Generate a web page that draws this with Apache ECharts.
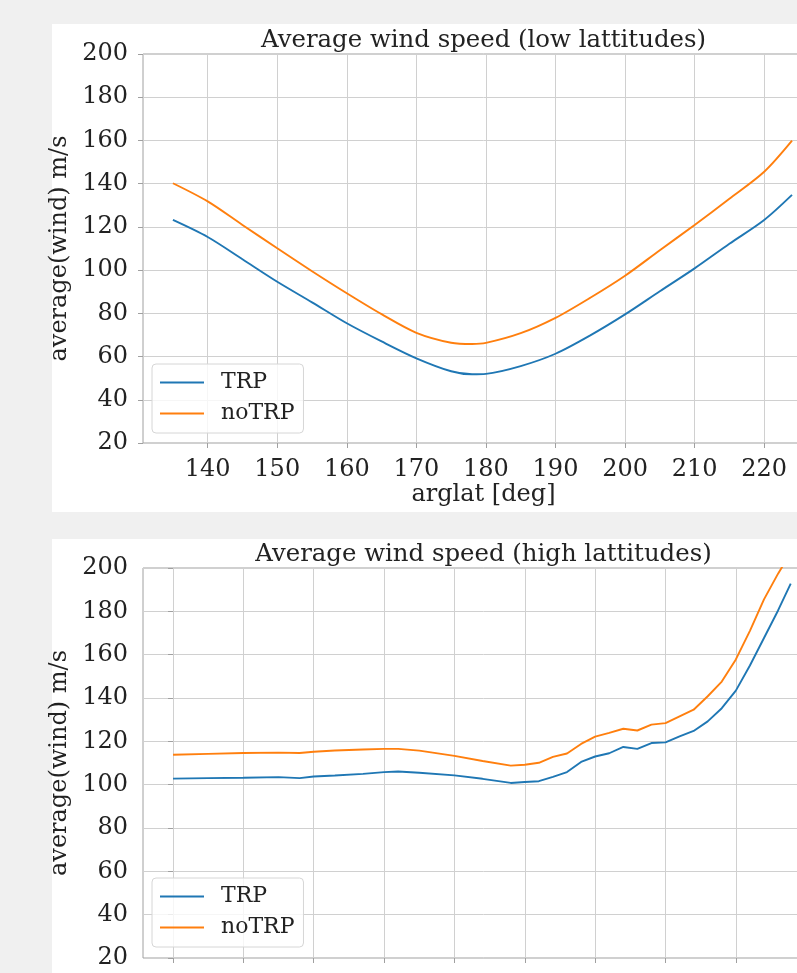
<!DOCTYPE html>
<html><head><meta charset="utf-8">
<script src="https://cdn.jsdelivr.net/npm/echarts@6/dist/echarts.min.js"></script>
<style>
html,body{margin:0;padding:0;background:#f0f0f0;width:797px;height:973px;overflow:hidden;position:relative;}
.panel{position:absolute;background:#fff;}
#chart{position:absolute;left:0;top:0;width:840px;height:1040px;}
</style></head><body>
<div class="panel" style="left:52px;top:24px;width:745px;height:488px"></div>
<div class="panel" style="left:52px;top:539px;width:745px;height:434px"></div>
<div id="chart"></div>
<script>
// ---- data ----
const lowArglat = [135,140,145,150,155,160,165,170,175,178,180,185,190,195,200,205,210,215,220,224];
const lowTRP    = [123.2,115.3,105.0,94.6,85.1,75.4,67.0,59.2,53.2,51.8,52.0,55.6,61.3,69.8,79.5,90.2,100.8,112.2,123.2,134.8];
const lowNoTRP  = [140.2,131.8,120.9,110.1,99.5,89.3,79.6,71.0,66.4,65.8,66.3,70.8,77.9,87.2,97.4,109.2,120.9,133.0,145.5,159.9];

const highArglat = [0,5,10,15,18,20,23,27,30,32,35,40,44,48,50,52,54,56,58,60,62,64,66,68,70,72,74,76,78,80,82,84,86,87.8];
const highTRP    = [102.8,103.0,103.2,103.5,103.0,103.8,104.2,105.0,105.8,106.1,105.5,104.3,102.7,100.8,101.2,101.6,103.6,105.8,110.5,113.0,114.5,117.4,116.5,119.2,119.5,122.3,124.8,129.2,135.3,143.4,155.0,167.7,180.4,192.8];
const highNoTRP  = [113.8,114.2,114.6,114.8,114.6,115.2,115.8,116.2,116.5,116.5,115.7,113.3,110.9,108.8,109.2,110.1,112.8,114.4,118.8,122.2,123.9,125.8,125.0,127.7,128.4,131.5,134.6,140.8,147.6,157.8,171.0,185.5,197.4,207.0];

const lowTicks  = [140,150,160,170,180,190,200,210,220];
const highTicks = [0,10,20,30,40,50,60,70,80,90];
const seriesNames = ['TRP','noTRP'];
const titles = ['Average wind speed (low lattitudes)','Average wind speed (high lattitudes)'];

// ---- styling ----
const FONT = 'DejaVu Serif';
const TXT = '#222';
const SPINE = '#a0a0a0';
const GRIDC = '#d0d0d0';
const BLUE = '#1f77b4', ORANGE = '#ff7f0e';

function pairs(xs, ys){ return xs.map((x,i)=>[x, ys[i]]); }

function xAxisCfg(idx, min, max, ticks, name){
  return {
    type:'value', gridIndex:idx, min:min, max:max,
    name:name, nameLocation:'middle', nameGap:37,
    nameTextStyle:{fontFamily:FONT, fontSize:24, color:TXT},
    axisLine:{show:false},
    axisTick:{show:true, inside:false, length:5, customValues:ticks, lineStyle:{color:SPINE}},
    axisLabel:{show:true, customValues:ticks, margin:15, fontFamily:FONT, fontSize:24, color:TXT},
    splitLine:{show:true, lineStyle:{color:GRIDC, width:1}}
  };
}
function yAxisCfg(idx){
  return {
    type:'value', gridIndex:idx, min:20, max:200, interval:20,
    name:'average(wind) m/s', nameLocation:'middle', nameGap:61,
    nameTextStyle:{fontFamily:FONT, fontSize:24, color:TXT},
    axisLine:{show:false},
    axisTick:{show:true, inside:false, length:5, lineStyle:{color:SPINE}},
    axisLabel:{margin:15, fontFamily:FONT, fontSize:24, color:TXT},
    splitLine:{show:true, lineStyle:{color:GRIDC, width:1}}
  };
}
function legendCfg(top){
  return {
    orient:'vertical', left:152, top:top, icon:'rect',
    backgroundColor:'rgba(255,255,255,0.8)', borderColor:'#d6d6d6', borderWidth:1, borderRadius:4,
    padding:[7,9,8,8], itemWidth:44, itemHeight:2, itemGap:8,
    textStyle:{fontFamily:FONT, fontSize:22, color:TXT, lineHeight:23, padding:[0,0,0,12]},
    data:seriesNames
  };
}
function lineSeries(name, xi, data, color, smooth){
  return {
    type:'line', name:name, xAxisIndex:xi, yAxisIndex:xi, data:data,
    symbol:'none', smooth:smooth, clip:true,
    lineStyle:{color:color, width:1.9}, itemStyle:{color:color}
  };
}

const chart = echarts.init(document.getElementById('chart'), null, {renderer:'canvas'});
chart.setOption({
  backgroundColor:'transparent',
  animation:false,
  title:[
    {text:titles[0], left:483.5, top:29, padding:0, textAlign:'center',
     textStyle:{fontFamily:FONT, fontSize:24.4, fontWeight:'normal', color:TXT}},
    {text:titles[1], left:483.5, top:543, padding:0, textAlign:'center',
     textStyle:{fontFamily:FONT, fontSize:24.4, fontWeight:'normal', color:TXT}}
  ],
  legend:[legendCfg(364), legendCfg(878)],
  grid:[
    {left:143, top:54, width:681, height:389, containLabel:false, outerBoundsMode:'none',
     show:true, backgroundColor:'#fff', borderColor:SPINE, borderWidth:1},
    {left:143, top:568, width:681, height:390, containLabel:false, outerBoundsMode:'none',
     show:true, backgroundColor:'#fff', borderColor:SPINE, borderWidth:1}
  ],
  xAxis:[
    xAxisCfg(0, 130.7, 228.6, lowTicks, 'arglat [deg]'),
    xAxisCfg(1, -4.27, 92.53, highTicks, 'arglat [deg]')
  ],
  yAxis:[yAxisCfg(0), yAxisCfg(1)],
  series:[
    lineSeries(seriesNames[0], 0, pairs(lowArglat, lowTRP), BLUE, 0.3),
    lineSeries(seriesNames[1], 0, pairs(lowArglat, lowNoTRP), ORANGE, 0.3),
    lineSeries(seriesNames[0], 1, pairs(highArglat, highTRP), BLUE, false),
    lineSeries(seriesNames[1], 1, pairs(highArglat, highNoTRP), ORANGE, false)
  ]
});
</script>
</body></html>
